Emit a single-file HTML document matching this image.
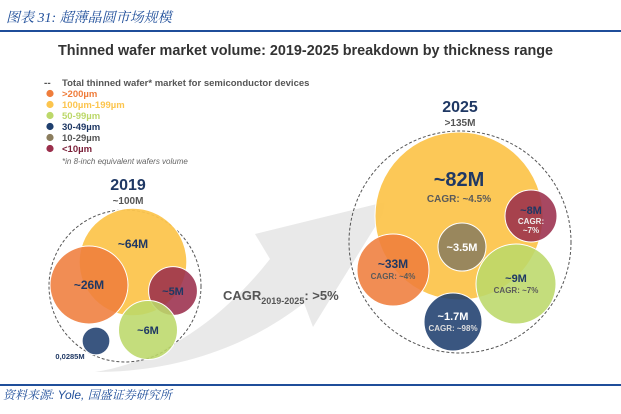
<!DOCTYPE html>
<html><head><meta charset="utf-8"><style>
html,body{margin:0;padding:0;background:#fff;}
body{width:621px;height:414px;overflow:hidden;position:relative;font-family:"Liberation Sans","Noto Sans CJK SC",sans-serif;}
svg{position:absolute;left:0;top:0;}
</style></head><body>
<svg id="chart" width="621" height="414" viewBox="0 0 621 414">
  <text x="6" y="22" font-size="14" font-style="italic" fill="#1F4E9A" font-family="'Liberation Serif','Noto Serif CJK SC',serif">图表 31:  超薄晶圆市场规模</text>
  <rect x="0" y="30" width="621" height="2" fill="#1F4E9A"/>
  <text x="58" y="55" font-size="14.4" font-weight="bold" fill="#333">Thinned wafer market volume: 2019-2025 breakdown by thickness range</text>

  <g id="legend"></g>

  <path d="M95 372 C170 360 230 310 270 259 L255 234 L385 202 L383 214 L313 327 L304 303 C250 345 180 372 95 372 Z" fill="#e9e9e9"/>
  <text x="223" y="300" font-size="13" font-weight="bold" fill="#555">CAGR<tspan font-size="9" dy="4">2019-2025</tspan><tspan dy="-4">: &gt;5%</tspan></text>

  <g id="bubbles"></g>

  <rect x="0" y="384" width="621" height="2" fill="#1F4E9A"/>
  <text x="3" y="399" font-size="12" font-style="italic" fill="#1F4E9A" font-family="'Liberation Sans','Noto Serif CJK SC',sans-serif">资料来源:  Yole,  国盛证券研究所</text>
</svg>
<script>
// ---- data ----
const categories = [">200µm","100µm-199µm","50-99µm","30-49µm","10-29µm","<10µm"];
const categoryColors = ["#EF7D3C","#FCC54E","#BCD86A","#1F3F6E","#8B7D5E","#9B2F4C"];
const years = ["2019","2025"];
const yearTotals = ["~100M",">135M"];
const values2019 = [26, 64, 6, 0.0285, null, 5];
const labels2019 = ["~26M","~64M","~6M","0,0285M","","~5M"];
const values2025 = [33, 82, 9, 1.7, 3.5, 8];
const labels2025 = ["~33M","~82M","~9M","~1.7M","~3.5M","~8M"];
const cagr2025 = ["CAGR: ~4%","CAGR: ~4.5%","CAGR: ~7%","CAGR: ~98%","","CAGR: ~7%"];

// ---- layout (positions of packed bubbles) ----
const NS="http://www.w3.org/2000/svg";
const svg=document.getElementById('chart');
const groups={2019:{cx:125,cy:286,R:76,tx:128,ty:190},2025:{cx:460,cy:242,R:111,tx:460,ty:112}};
const pos2019=[[89,285],[133,262],[148,330],[96,341],null,[173,291]];
const pos2025=[[393,270],[459,216],[516,284],[453,322],[462,247],[531,216]];
function r2019(v){return 13+5.1*Math.sqrt(v)+(v>5&&v<10?4:0);}
const r2025map=[36,84,40,29,24,26];
function r2025(v,i){return r2025map[i];}

function el(tag,attrs,parent){const e=document.createElementNS(NS,tag);for(const k in attrs)e.setAttribute(k,attrs[k]);(parent||svg).appendChild(e);return e;}

const lg=document.getElementById('legend');
let t=el('text',{x:44,y:86,'font-size':10,'font-weight':'bold',fill:'#555'},lg);t.textContent='--';


t=el('text',{x:62,y:86,'font-size':9.5,'font-weight':'bold',fill:'#555'},lg);t.textContent='Total thinned wafer* market for semiconductor devices';


const legTextColors=["#EF7D3C","#FCC54E","#BCD86A","#1F3864","#555","#7A1F38"];
categories.forEach((c,i)=>{
  const y=97+i*11;
  const d=el('circle',{cx:50,cy:y-3.5,r:3.6,fill:categoryColors[i]},lg);
  
  
  const tx=el('text',{x:62,y:y,'font-size':9.5,'font-weight':'bold',fill:legTextColors[i]},lg);tx.textContent=c;
  
  
});
t=el('text',{x:62,y:164,'font-size':8,'font-style':'italic',fill:'#666'},lg);t.textContent='*in 8-inch equivalent wafers volume';



const bg=document.getElementById('bubbles');
function drawYear(y,vals,labs,cagrs,pos,rf){
  const g=groups[y];
  const outer=el('circle',{cx:g.cx,cy:g.cy,r:g.R,fill:'none',stroke:'#555','stroke-width':1,'stroke-dasharray':'3,2'},bg);
  
  
  const yt=el('text',{x:g.tx,y:g.ty,'font-size':16,'font-weight':'bold',fill:'#1F3864','text-anchor':'middle'},bg);yt.textContent=y;
  
  
  const tt=el('text',{x:g.tx,y:g.ty+14,'font-size':10,'font-weight':'bold',fill:'#555','text-anchor':'middle'},bg);tt.textContent=yearTotals[years.indexOf(y)];
  
  
  const order=[1,0,4,5,2,3];
  order.forEach(i=>{
    if(vals[i]==null)return;
    const [cx,cy]=pos[i];const r=rf(vals[i],i);
    const c=el('circle',{cx:cx,cy:cy,r:r,fill:categoryColors[i],'fill-opacity':i==1?0.95:0.88,stroke:'#fff','stroke-width':1},bg);
    
    
  });
  order.forEach(i=>{
    if(vals[i]==null)return;
    const [cx,cy]=pos[i];
    const light=(i==3||i==4||i==5)&&y=='2025';
    const big=i==1&&y=='2025';
    const hasC=cagrs&&cagrs[i];
    let lx=cx,ly=cy+4;
    if(i==3&&y=='2019'){lx=70;ly=359;}
    else if(i==1&&y=='2019'){ly=cy-14;}
    else if(big){ly=cy-30;}
    else if(hasC){ly=cy-2;}
    const fs=(i==3&&y=='2019')?7.5:big?20:(i==0||i==1)?12:11;
    const lab=el('text',{x:lx,y:ly,'font-size':fs,'font-weight':'bold',fill:light&&i!=5?'#fff':'#1F3864','text-anchor':'middle'},bg);lab.textContent=labs[i];
    
    
    if(hasC){
      const cf=i==1?10:8;
      if(i==5){
        ['CAGR:','~7%'].forEach((s,k)=>{const ct=el('text',{x:cx,y:ly+10+k*9,'font-size':cf,'font-weight':'bold',fill:'#eee','text-anchor':'middle'},bg);ct.textContent=k==0?'CAGR:':cagrs[i].replace('CAGR: ','');
          
          });
      } else {
        const ct=el('text',{x:cx,y:ly+(i==1?16:11),'font-size':cf,'font-weight':'bold',fill:light?'#ddd':'#5a5a5a','text-anchor':'middle'},bg);ct.textContent=cagrs[i];
        
        
      }
    }
  });
}
drawYear('2019',values2019,labels2019,null,pos2019,r2019);
drawYear('2025',values2025,labels2025,cagr2025,pos2025,r2025);
</script>
</body></html>
